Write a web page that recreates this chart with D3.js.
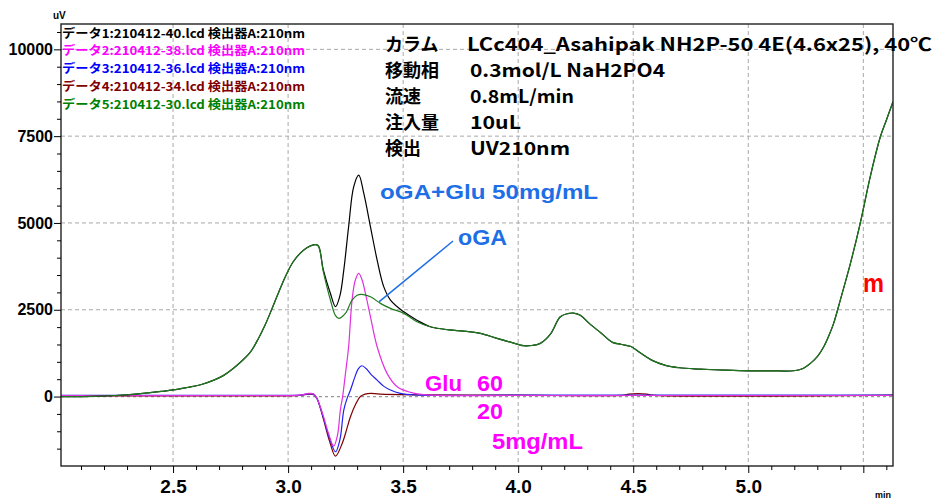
<!DOCTYPE html>
<html>
<head>
<meta charset="utf-8">
<script src="https://cdn.jsdelivr.net/npm/d3@7"></script>
<style>
  html, body { margin: 0; padding: 0; background: #fff; }
  svg { display: block; }
  .num { font-family: "Liberation Sans", Arial, sans-serif; font-weight: bold; }
  .jp  { font-family: "Noto Sans CJK JP", "Noto Sans", sans-serif; }
</style>
</head>
<body>
<svg id="chart" width="936" height="500"></svg>
<script>
// ---- Chromatogram traces (time in min, signal in uV) ----
const data1Time = [2.013, 2.15, 2.25, 2.35, 2.45, 2.5, 2.56, 2.62, 2.68, 2.72, 2.76, 2.8, 2.835, 2.87, 2.9, 2.93, 2.96, 2.99, 3.02, 3.05, 3.08, 3.11, 3.13, 3.153, 3.184, 3.206, 3.225, 3.242, 3.263, 3.285, 3.307, 3.329, 3.358, 3.387, 3.416, 3.445, 3.503, 3.56, 3.618, 3.7, 3.763, 3.836, 3.908, 3.97, 4.024, 4.06, 4.096, 4.14, 4.183, 4.215, 4.24, 4.27, 4.31, 4.36, 4.41, 4.45, 4.49, 4.53, 4.58, 4.64, 4.7, 4.79, 4.9, 5.0, 5.1, 5.197, 5.235, 5.27, 5.3, 5.328, 5.35, 5.371, 5.4, 5.444, 5.487, 5.53, 5.574, 5.6, 5.629];
const data1Value = [0, 5, 30, 80, 150, 190, 260, 340, 480, 610, 800, 1030, 1270, 1660, 2060, 2530, 3020, 3480, 3860, 4110, 4280, 4370, 4350, 3650, 2970, 2590, 2900, 3640, 4890, 6040, 6380, 5850, 4890, 3930, 3160, 2780, 2440, 2200, 2010, 1920, 1886, 1820, 1676, 1560, 1463, 1470, 1532, 1800, 2298, 2390, 2405, 2340, 2100, 1830, 1560, 1500, 1440, 1260, 1050, 900, 830, 792, 760, 740, 740, 743, 800, 956, 1150, 1434, 1750, 2108, 2779, 3836, 5005, 6330, 7482, 7960, 8490];

const data5Time = [2.013, 2.15, 2.25, 2.35, 2.45, 2.5, 2.56, 2.62, 2.68, 2.72, 2.76, 2.8, 2.835, 2.87, 2.9, 2.93, 2.96, 2.99, 3.02, 3.05, 3.08, 3.11, 3.13, 3.153, 3.184, 3.206, 3.22, 3.249, 3.278, 3.3, 3.32, 3.358, 3.401, 3.445, 3.503, 3.56, 3.618, 3.7, 3.763, 3.836, 3.908, 3.97, 4.024, 4.06, 4.096, 4.14, 4.183, 4.215, 4.24, 4.27, 4.31, 4.36, 4.41, 4.45, 4.49, 4.53, 4.58, 4.64, 4.7, 4.79, 4.9, 5.0, 5.1, 5.197, 5.235, 5.27, 5.3, 5.328, 5.35, 5.371, 5.4, 5.444, 5.487, 5.53, 5.574, 5.6, 5.629];
const data5Value = [0, 5, 30, 80, 150, 190, 260, 340, 480, 610, 800, 1030, 1270, 1660, 2060, 2530, 3020, 3480, 3860, 4110, 4280, 4370, 4350, 3600, 2780, 2330, 2252, 2396, 2779, 2920, 2943, 2874, 2684, 2540, 2396, 2154, 2010, 1920, 1886, 1820, 1676, 1560, 1463, 1470, 1532, 1800, 2298, 2390, 2405, 2340, 2100, 1830, 1560, 1500, 1440, 1260, 1050, 900, 830, 792, 760, 740, 740, 743, 800, 956, 1150, 1434, 1750, 2108, 2779, 3836, 5005, 6330, 7482, 7960, 8490];

const data2Time = [2.013, 2.9, 3.05, 3.09, 3.11, 3.125, 3.14, 3.155, 3.175, 3.198, 3.215, 3.227, 3.237, 3.25, 3.263, 3.278, 3.292, 3.307, 3.322, 3.336, 3.358, 3.387, 3.43, 3.474, 3.532, 3.6, 4.0, 4.5, 5.0, 5.629];
const data2Value = [30, 30, 40, 90, 80, -50, -300, -600, -1050, -1426, -1100, -390, 0, 700, 1434, 2779, 3350, 3548, 3350, 2972, 2298, 1434, 668, 283, 121, 50, 30, 30, 30, 30];

const data3Time = [2.013, 2.9, 3.05, 3.09, 3.11, 3.125, 3.14, 3.155, 3.18, 3.206, 3.225, 3.242, 3.256, 3.271, 3.29, 3.305, 3.321, 3.34, 3.36, 3.387, 3.415, 3.445, 3.488, 3.55, 4.0, 5.629];
const data3Value = [35, 35, 40, 80, 70, -50, -320, -650, -1200, -1590, -1250, -390, -60, 187, 560, 800, 887, 800, 640, 475, 300, 187, 92, 45, 40, 40];

const data4Time = [2.013, 2.9, 3.05, 3.09, 3.11, 3.125, 3.14, 3.155, 3.18, 3.206, 3.235, 3.25, 3.271, 3.295, 3.314, 3.335, 3.36, 3.4, 4.0, 4.46, 4.48, 4.56, 4.58, 5.629];
const data4Value = [20, 20, 30, 70, 60, -50, -330, -680, -1280, -1714, -1350, -1050, -580, -200, 0, 70, 90, 70, 40, 40, 70, 70, 40, 40];

// Legend entries and trace colours
const legendLabels = [
  "データ1:210412-40.lcd 検出器A:210nm",
  "データ2:210412-38.lcd 検出器A:210nm",
  "データ3:210412-36.lcd 検出器A:210nm",
  "データ4:210412-34.lcd 検出器A:210nm",
  "データ5:210412-30.lcd 検出器A:210nm"
];
const legendColors = ["#000000", "#ff00ff", "#0000ff", "#800000", "#008000"];

// Method conditions block
const conditionNames  = ["カラム", "移動相", "流速", "注入量", "検出"];
const conditionValues = ["LCc404_Asahipak NH2P-50 4E(4.6x25), 40℃", "0.3mol/L NaH2PO4", "0.8mL/min", "10uL", "UV210nm"];

// Axis ticks
const xMajorTicks = [2.5, 3.0, 3.5, 4.0, 4.5, 5.0, 5.5];
const xTickLabels = ["2.5", "3.0", "3.5", "4.0", "4.5", "5.0", ""];
const yMajorTicks = [0, 2500, 5000, 7500, 10000];
const yTickLabels = ["0", "2500", "5000", "7500", "10000"];

// Peak annotations (time, signal)
const peakLabels = [
  { text: "oGA+Glu 50mg/mL", t: 3.40, v: 5893, color: "#1e6ee6", len: 218, size: 21 },
  { text: "oGA",             t: 3.739, v: 4568, color: "#1e6ee6", len: 49,  size: 22 },
  { text: "Glu",             t: 3.595, v: 363,  color: "#ff00ff", len: 37,  size: 22 },
  { text: "60",              t: 3.821, v: 363,  color: "#ff00ff", len: 26,  size: 22 },
  { text: "20",              t: 3.821, v: -444, color: "#ff00ff", len: 26,  size: 22 },
  { text: "5mg/mL",          t: 3.886, v: -1308, color: "#ff00ff", len: 91, size: 22 },
  { text: "m",               t: 5.499, v: 3272, color: "#ff0000", len: 21,  size: 25 }
];
const oGAPointer = [[3.395, 2725], [3.717, 4480]];

// ---- Layout ----
const svg = d3.select("#chart");
const plotL = 61, plotR = 893, plotT = 24, plotB = 466;

const x = d3.scaleLinear().domain([2.013, 5.629]).range([plotL, plotR]);
const y = d3.scaleLinear().domain([-2000, 10730]).range([plotB, plotT]);

svg.append("defs").append("clipPath").attr("id", "plotClip")
  .append("rect").attr("x", plotL).attr("y", plotT)
  .attr("width", plotR - plotL).attr("height", plotB - plotT);

// Grid
const grid = svg.append("g");
grid.selectAll("line.vg").data(xMajorTicks).join("line")
  .attr("x1", d => x(d)).attr("x2", d => x(d))
  .attr("y1", plotT).attr("y2", plotB)
  .attr("stroke", "#a8a8a8").attr("stroke-width", 1).attr("stroke-dasharray", "4,3");
grid.selectAll("line.hg").data(yMajorTicks.filter(d => d !== 0)).join("line")
  .attr("x1", plotL).attr("x2", plotR)
  .attr("y1", d => y(d)).attr("y2", d => y(d))
  .attr("stroke", "#a8a8a8").attr("stroke-width", 1).attr("stroke-dasharray", "4,3");
grid.append("line")
  .attr("x1", plotL).attr("x2", plotR).attr("y1", y(0)).attr("y2", y(0))
  .attr("stroke", "#999").attr("stroke-width", 1.2).attr("stroke-dasharray", "3,3");

// Legend
svg.append("g").selectAll("text").data(legendLabels).join("text")
  .attr("class", "jp")
  .attr("x", 62)
  .attr("y", (d, i) => 32.5 + i * 17.8)
  .attr("dominant-baseline", "central")
  .attr("font-size", 12.2).attr("font-weight", "bold")
  .attr("textLength", 243).attr("lengthAdjust", "spacingAndGlyphs")
  .attr("fill", (d, i) => legendColors[i])
  .text(d => d);

// Traces
const line = d3.line().x(d => x(d[0])).y(d => y(d[1])).curve(d3.curveCatmullRom.alpha(0.5));
const traces = [
  { t: data4Time, v: data4Value, c: "#800000" },
  { t: data3Time, v: data3Value, c: "#2222ee" },
  { t: data2Time, v: data2Value, c: "#e030e0" },
  { t: data1Time, v: data1Value, c: "#000000" },
  { t: data5Time, v: data5Value, c: "#1f7a1f" }
];
const traceG = svg.append("g").attr("clip-path", "url(#plotClip)");
traceG.selectAll("path").data(traces).join("path")
  .attr("d", d => line(d.t.map((t, i) => [t, d.v[i]])))
  .attr("fill", "none")
  .attr("stroke", d => d.c)
  .attr("stroke-width", 1.2);

// Frame
svg.append("rect").attr("x", plotL).attr("y", plotT)
  .attr("width", plotR - plotL).attr("height", plotB - plotT)
  .attr("fill", "none").attr("stroke", "#222").attr("stroke-width", 1.4);

// Axes
const xMinor = d3.range(21, 57).map(d => d / 10).filter(d => Math.abs(d * 2 - Math.round(d * 2)) > 1e-9);
svg.append("g").attr("transform", `translate(0,${plotB})`)
  .call(d3.axisBottom(x).tickValues(xMinor).tickSize(4).tickFormat(""))
  .call(g => g.select(".domain").remove());
svg.append("g").attr("transform", `translate(0,${plotB})`)
  .call(d3.axisBottom(x).tickValues(xMajorTicks).tickSize(7).tickPadding(7)
    .tickFormat((d, i) => xTickLabels[i]))
  .call(g => g.select(".domain").remove())
  .call(g => g.selectAll("text").attr("class", "num").attr("font-size", 19).attr("fill", "#000"));

const yMinor = d3.range(-1500, 10501, 500).filter(d => d % 2500 !== 0);
svg.append("g").attr("transform", `translate(${plotL},0)`)
  .call(d3.axisLeft(y).tickValues(yMinor).tickSize(4).tickFormat(""))
  .call(g => g.select(".domain").remove());
svg.append("g").attr("transform", `translate(${plotL},0)`)
  .call(d3.axisLeft(y).tickValues(yMajorTicks).tickSize(7).tickPadding(1)
    .tickFormat((d, i) => yTickLabels[i]))
  .call(g => g.select(".domain").remove())
  .call(g => g.selectAll("text").attr("class", "num").attr("font-size", 16).attr("fill", "#000"));

svg.append("text").attr("class", "num").attr("x", 53).attr("y", 19)
  .attr("font-size", 10).text("uV");
svg.append("text").attr("class", "num").attr("x", 875).attr("y", 498)
  .attr("font-size", 9).text("min");

// Method conditions
const cond = svg.append("g");
cond.selectAll("text.name").data(conditionNames).join("text")
  .attr("class", "jp name")
  .attr("x", 385).attr("y", (d, i) => 43 + i * 26)
  .attr("dominant-baseline", "central")
  .attr("font-size", 18).attr("font-weight", "bold")
  .text(d => d);
const condLens = [465, 195, 104, 51, 100];
cond.selectAll("text.val").data(conditionValues).join("text")
  .attr("class", "jp val")
  .attr("x", (d, i) => i === 0 ? 467 : 470).attr("y", (d, i) => 43 + i * 26)
  .attr("dominant-baseline", "central")
  .attr("font-size", 18).attr("font-weight", "bold")
  .attr("textLength", (d, i) => condLens[i]).attr("lengthAdjust", "spacingAndGlyphs")
  .text(d => d);

// Peak annotations
svg.append("line")
  .attr("x1", x(oGAPointer[0][0])).attr("y1", y(oGAPointer[0][1]))
  .attr("x2", x(oGAPointer[1][0])).attr("y2", y(oGAPointer[1][1]))
  .attr("stroke", "#1e6ee6").attr("stroke-width", 1.5);
svg.append("g").selectAll("text").data(peakLabels).join("text")
  .attr("class", "num")
  .attr("x", d => x(d.t)).attr("y", d => y(d.v))
  .attr("dominant-baseline", "central")
  .attr("font-size", d => d.size)
  .attr("textLength", d => d.len).attr("lengthAdjust", "spacingAndGlyphs")
  .attr("fill", d => d.color)
  .text(d => d.text);
</script>
</body>
</html>
